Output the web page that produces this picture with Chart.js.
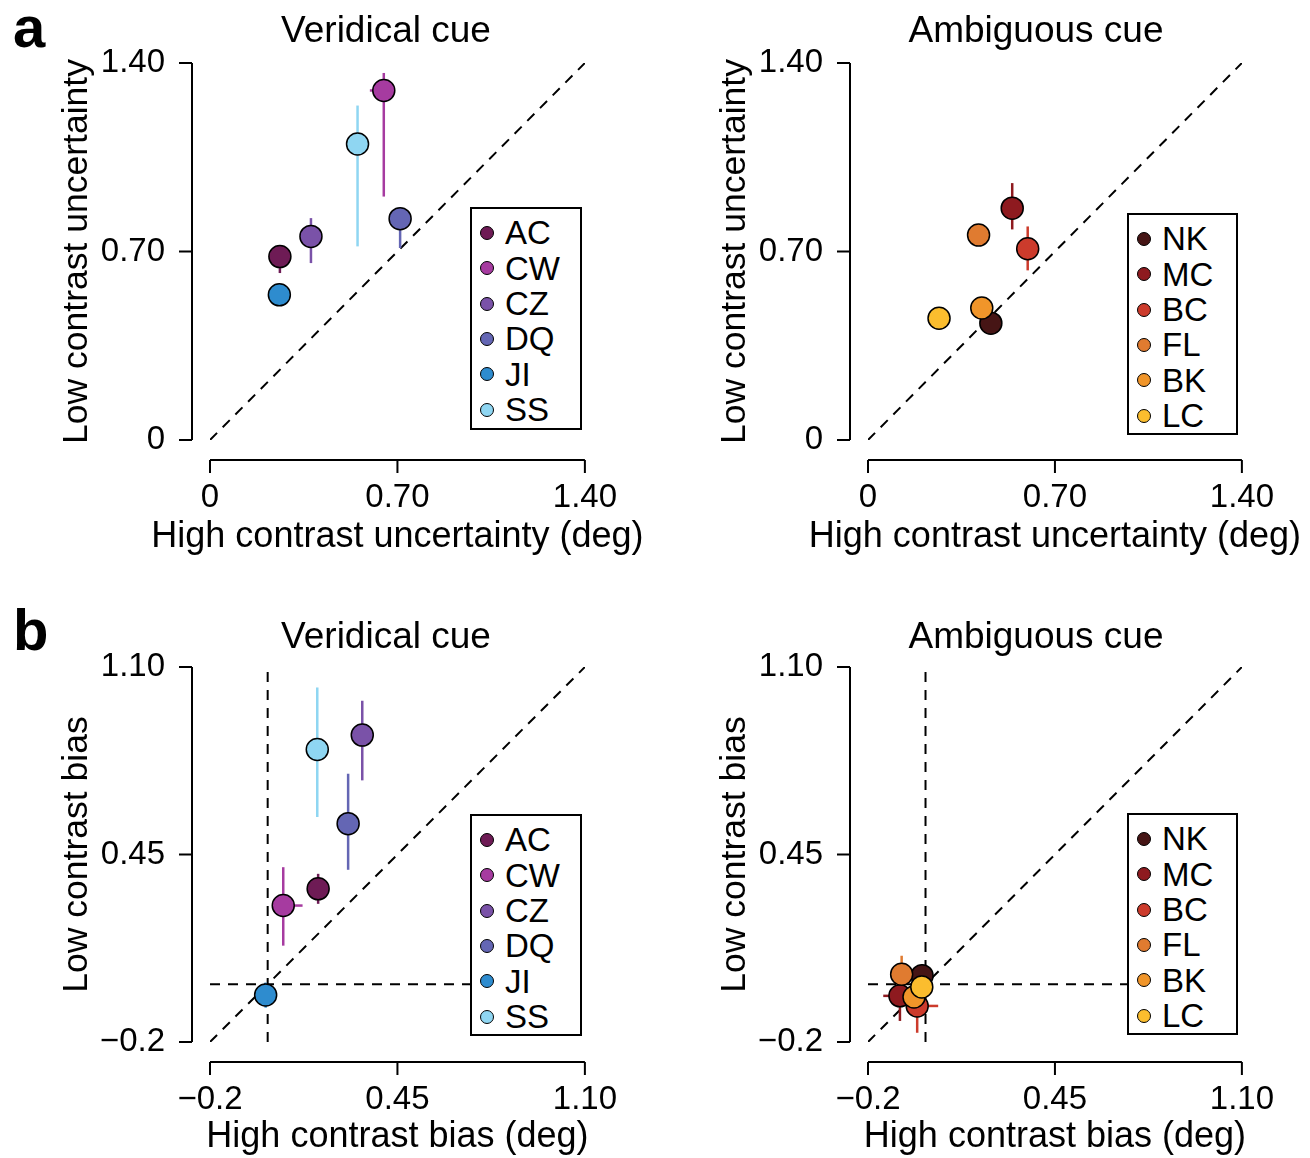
<!DOCTYPE html>
<html>
<head>
<meta charset="utf-8">
<script src="https://cdn.jsdelivr.net/npm/chart.js@4.4.1/dist/chart.umd.min.js"></script>
<style>
body{margin:0;background:#fff;width:1310px;height:1158px;position:relative;overflow:hidden;font-family:"Liberation Sans",Arial,sans-serif;}
canvas{position:absolute;}
.txt{position:absolute;white-space:nowrap;color:#000;line-height:1;}
.title{font-size:37px;width:400px;text-align:center;}
.letter{font-size:58px;font-weight:bold;}
.lg{position:absolute;border:2px solid #000;background:#fff;box-sizing:border-box;}
.lg .dot{position:absolute;width:14px;height:14px;border-radius:50%;border:1.5px solid #000;box-sizing:border-box;}
.lg .lab{position:absolute;font-size:33px;line-height:1;}
</style>
</head>
<body>
<!-- the x tick padding also reserves room right of the plot, so the canvases are a little wider -->
<canvas id="aLeft" width="658" height="579" style="left:0;top:0"></canvas>
<canvas id="aRight" width="660" height="579" style="left:655px;top:0"></canvas>
<canvas id="bLeft" width="658" height="579" style="left:0;top:579px"></canvas>
<canvas id="bRight" width="660" height="579" style="left:655px;top:579px"></canvas>

<div class="txt letter" style="left:13px;top:-2px">a</div>
<div class="txt letter" style="left:13px;top:601px">b</div>
<div class="txt title" style="left:186px;top:11px">Veridical cue</div>
<div class="txt title" style="left:836px;top:11px">Ambiguous cue</div>
<div class="txt title" style="left:186px;top:617px">Veridical cue</div>
<div class="txt title" style="left:836px;top:617px">Ambiguous cue</div>

<div id="lgALeft" class="lg" style="left:470px;top:207px;width:112px;height:223px"></div>
<div id="lgARight" class="lg" style="left:1127px;top:213px;width:111px;height:222px"></div>
<div id="lgBLeft" class="lg" style="left:470px;top:814px;width:112px;height:222px"></div>
<div id="lgBRight" class="lg" style="left:1127px;top:813px;width:111px;height:222px"></div>

<script>
// subjects and colours
var subjectsVeridical = ["AC", "CW", "CZ", "DQ", "JI", "SS"];
var colorsVeridical = ["rgb(110,27,85)", "rgb(166,59,160)", "rgb(122,82,168)", "rgb(100,102,180)", "rgb(46,140,207)", "rgb(143,214,242)"];
var subjectsAmbiguous = ["NK", "MC", "BC", "FL", "BK", "LC"];
var colorsAmbiguous = ["rgb(70,21,21)", "rgb(142,26,31)", "rgb(204,59,44)", "rgb(224,123,48)", "rgb(240,149,42)", "rgb(251,189,46)"];

// axes
var uncTicks = [0, 0.70, 1.40];
var uncTickLabels = ["0", "0.70", "1.40"];
var biasTicks = [-0.2, 0.45, 1.10];
var biasTickLabels = ["\u22120.2", "0.45", "1.10"];
var uncDiagonal = [0, 1.40];
var biasDiagonal = [-0.2, 1.10];
var biasZero = 0;

// a, veridical cue: uncertainty (deg)
var uncHighVer = [0.261, 0.649, 0.377, 0.710, 0.259, 0.551];
var uncLowVer = [0.681, 1.298, 0.756, 0.822, 0.539, 1.099];
var uncLowVerLo = [0.62, 0.904, 0.657, 0.713, null, 0.719];
var uncLowVerHi = [0.72, 1.363, 0.824, 0.84, null, 1.242];
var uncHighVerLo = [null, 0.597, null, null, null, null];
var uncHighVerHi = [null, 0.649, null, null, null, null];

// a, ambiguous cue
var uncHighAmb = [0.460, 0.540, 0.598, 0.414, 0.426, 0.266];
var uncLowAmb = [0.434, 0.861, 0.710, 0.761, 0.490, 0.452];
var uncLowAmbLo = [null, 0.782, 0.630, null, null, null];
var uncLowAmbHi = [null, 0.954, 0.793, null, null, null];
var uncHighAmbLo = [null, null, null, null, null, null];
var uncHighAmbHi = [null, null, null, null, null, null];

// b, veridical cue: bias (deg)
var biasHighVer = [0.175, 0.054, 0.328, 0.279, -0.007, 0.172];
var biasLowVer = [0.331, 0.273, 0.864, 0.557, -0.037, 0.814];
var biasLowVerLo = [0.279, 0.134, 0.707, 0.397, -0.081, 0.580];
var biasLowVerHi = [0.383, 0.406, 0.983, 0.730, 0.006, 1.029];
var biasHighVerLo = [null, 0.020, null, null, null, null];
var biasHighVerHi = [null, 0.121, null, null, null, null];

// b, ambiguous cue
var biasHighAmb = [-0.012, -0.089, -0.029, -0.083, -0.040, -0.013];
var biasLowAmb = [0.030, -0.040, -0.075, 0.035, -0.044, -0.009];
var biasLowAmbLo = [0.000, -0.127, -0.168, 0.000, null, null];
var biasLowAmbHi = [0.070, 0.000, 0.000, 0.099, null, null];
var biasHighAmbLo = [null, -0.147, -0.060, null, null, null];
var biasHighAmbHi = [null, -0.040, 0.044, null, null, null];

var fontFamily = '"Liberation Sans", Arial, sans-serif';
Chart.defaults.font.family = fontFamily;
Chart.defaults.color = '#000';

// R style axes, drawn a little away from the plot area, plus the axis titles
var detachedAxes = {
    id: 'detachedAxes',
    afterDraw: function(chart, args, opts) {
        var ctx = chart.ctx, sx = chart.scales.x, sy = chart.scales.y, area = chart.chartArea;
        var ay = area.bottom + 20, ax = area.left - 18;
        ctx.save();
        ctx.strokeStyle = '#000';
        ctx.lineWidth = 2;
        ctx.beginPath();
        ctx.moveTo(sx.getPixelForValue(sx.min), ay);
        ctx.lineTo(sx.getPixelForValue(sx.max), ay);
        sx.ticks.forEach(function(t) {
            var p = sx.getPixelForValue(t.value);
            ctx.moveTo(p, ay);
            ctx.lineTo(p, ay + 13);
        });
        ctx.moveTo(ax, sy.getPixelForValue(sy.min));
        ctx.lineTo(ax, sy.getPixelForValue(sy.max));
        sy.ticks.forEach(function(t) {
            var p = sy.getPixelForValue(t.value);
            ctx.moveTo(ax, p);
            ctx.lineTo(ax - 13, p);
        });
        ctx.stroke();

        // axis titles
        ctx.fillStyle = '#000';
        ctx.font = '36px ' + fontFamily;
        ctx.textAlign = 'center';
        ctx.textBaseline = 'middle';
        ctx.fillText(opts.xTitle, (area.left + area.right) / 2, opts.xTitleY);
        ctx.translate(opts.yTitleX, (area.top + area.bottom) / 2);
        ctx.rotate(-Math.PI / 2);
        ctx.font = '35.5px ' + fontFamily;
        ctx.fillText(opts.yTitle, 0, 0);
        ctx.restore();
    }
};

function dashedLine(x0, y0, x1, y1) {
    return {data: [{x: x0, y: y0}, {x: x1, y: y1}], showLine: true, borderColor: '#000',
        borderWidth: 2, borderDash: [10, 8], pointRadius: 0, order: 2};
}

function buildPanel(id, p) {
    var datasets = [];
    // reference lines
    datasets.push(dashedLine(p.diag[0], p.diag[0], p.diag[1], p.diag[1]));
    if (p.zero !== undefined) {
        datasets.push(dashedLine(p.diag[0], p.zero, p.diag[1], p.zero));
        datasets.push(dashedLine(p.zero, p.diag[0], p.zero, p.diag[1]));
    }
    // error bars
    for (var i = 0; i < p.xs.length; i++) {
        if (p.yLo[i] !== null) {
            datasets.push({data: [{x: p.xs[i], y: p.yLo[i]}, {x: p.xs[i], y: p.yHi[i]}], showLine: true,
                borderColor: p.colors[i], borderWidth: 2.5, pointRadius: 0, order: 1});
        }
        if (p.xLo[i] !== null) {
            datasets.push({data: [{x: p.xLo[i], y: p.ys[i]}, {x: p.xHi[i], y: p.ys[i]}], showLine: true,
                borderColor: p.colors[i], borderWidth: 2.5, pointRadius: 0, order: 1});
        }
    }
    // subjects
    datasets.push({
        data: p.xs.map(function(x, i) { return {x: x, y: p.ys[i]}; }),
        pointRadius: 11, pointHoverRadius: 11,
        pointBackgroundColor: p.colors, pointBorderColor: '#000', pointBorderWidth: 1.5,
        order: 0
    });

    var tickFont = {size: 33, lineHeight: 1};

    new Chart(document.getElementById(id).getContext('2d'), {
        type: 'scatter',
        data: {datasets: datasets},
        options: {
            responsive: false,
            animation: false,
            devicePixelRatio: 1,
            layout: {padding: {left: 0, right: 20, top: p.padTop, bottom: 0}},
            plugins: {
                legend: {display: false}, tooltip: {enabled: false},
                detachedAxes: {xTitle: p.xTitle, yTitle: p.yTitle, xTitleY: p.xTitleY, yTitleX: p.yTitleX}
            },
            scales: {
                x: {
                    type: 'linear', min: p.ticks[0], max: p.ticks[p.ticks.length - 1],
                    afterBuildTicks: function(s) { s.ticks = p.ticks.map(function(v) { return {value: v}; }); },
                    afterFit: function(s) { s.height = p.xHeight; },
                    grid: {display: false, drawTicks: false}, border: {display: false},
                    ticks: {font: tickFont, padding: 41, maxRotation: 0, autoSkip: false,
                        callback: function(v, i) { return p.tickLabels[i]; }}
                },
                y: {
                    type: 'linear', min: p.ticks[0], max: p.ticks[p.ticks.length - 1],
                    afterBuildTicks: function(s) { s.ticks = p.ticks.map(function(v) { return {value: v}; }); },
                    afterFit: function(s) { s.width = p.yWidth; },
                    grid: {display: false, drawTicks: false}, border: {display: false},
                    ticks: {font: tickFont, padding: 45, autoSkip: false,
                        callback: function(v, i) { return p.tickLabels[i]; }}
                }
            }
        },
        plugins: [detachedAxes]
    });
}

function buildLegend(id, names, colors) {
    var box = document.getElementById(id);
    names.forEach(function(n, i) {
        var cy = 23.7 + i * 35.4;
        var dot = document.createElement('div');
        dot.className = 'dot';
        dot.style.left = (15 - 7) + 'px';
        dot.style.top = (cy - 7) + 'px';
        dot.style.background = colors[i];
        box.appendChild(dot);
        var lab = document.createElement('div');
        lab.className = 'lab';
        lab.textContent = n;
        lab.style.left = '33px';
        lab.style.top = (cy - 16.5) + 'px';
        box.appendChild(lab);
    });
}

buildPanel('aLeft', {xs: uncHighVer, ys: uncLowVer, yLo: uncLowVerLo, yHi: uncLowVerHi, xLo: uncHighVerLo, xHi: uncHighVerHi,
    colors: colorsVeridical, ticks: uncTicks, tickLabels: uncTickLabels, diag: uncDiagonal,
    xTitle: 'High contrast uncertainty (deg)', yTitle: 'Low contrast uncertainty',
    padTop: 63, xHeight: 139, yWidth: 210, xTitleY: 537, yTitleX: 77});
buildPanel('aRight', {xs: uncHighAmb, ys: uncLowAmb, yLo: uncLowAmbLo, yHi: uncLowAmbHi, xLo: uncHighAmbLo, xHi: uncHighAmbHi,
    colors: colorsAmbiguous, ticks: uncTicks, tickLabels: uncTickLabels, diag: uncDiagonal,
    xTitle: 'High contrast uncertainty (deg)', yTitle: 'Low contrast uncertainty',
    padTop: 63, xHeight: 139, yWidth: 213, xTitleY: 537, yTitleX: 80});
buildPanel('bLeft', {xs: biasHighVer, ys: biasLowVer, yLo: biasLowVerLo, yHi: biasLowVerHi, xLo: biasHighVerLo, xHi: biasHighVerHi,
    colors: colorsVeridical, ticks: biasTicks, tickLabels: biasTickLabels, diag: biasDiagonal, zero: biasZero,
    xTitle: 'High contrast bias (deg)', yTitle: 'Low contrast bias',
    padTop: 88, xHeight: 116, yWidth: 210, xTitleY: 558, yTitleX: 77});
buildPanel('bRight', {xs: biasHighAmb, ys: biasLowAmb, yLo: biasLowAmbLo, yHi: biasLowAmbHi, xLo: biasHighAmbLo, xHi: biasHighAmbHi,
    colors: colorsAmbiguous, ticks: biasTicks, tickLabels: biasTickLabels, diag: biasDiagonal, zero: biasZero,
    xTitle: 'High contrast bias (deg)', yTitle: 'Low contrast bias',
    padTop: 88, xHeight: 116, yWidth: 213, xTitleY: 558, yTitleX: 80});

buildLegend('lgALeft', subjectsVeridical, colorsVeridical);
buildLegend('lgARight', subjectsAmbiguous, colorsAmbiguous);
buildLegend('lgBLeft', subjectsVeridical, colorsVeridical);
buildLegend('lgBRight', subjectsAmbiguous, colorsAmbiguous);
</script>
</body>
</html>
